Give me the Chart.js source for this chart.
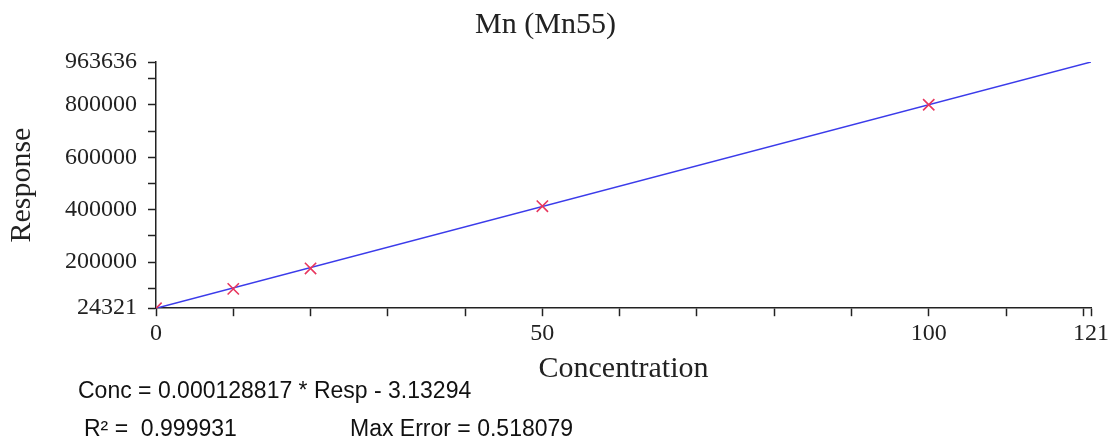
<!DOCTYPE html>
<html>
<head>
<meta charset="utf-8">
<title>Mn (Mn55)</title>
<script src="https://cdn.jsdelivr.net/npm/chart.js@4/dist/chart.umd.min.js"></script>
<style>
  html, body { margin: 0; padding: 0; background: #fff; }
  #wrap { position: relative; width: 1113px; height: 447px; }
  #calib { display: block; }
  .eq {
    position: absolute;
    font-family: "Liberation Sans", Arial, sans-serif;
    font-size: 23px;
    line-height: 26px;
    color: #111;
    white-space: pre;
  }
</style>
</head>
<body>
<div id="wrap">
  <canvas id="calib" width="1113" height="447"></canvas>
  <div class="eq" id="eq-line" style="left:78px; top:377px;"></div>
  <div class="eq" id="eq-r2" style="left:84px; top:415px;"></div>
  <div class="eq" id="eq-err" style="left:350px; top:415px;"></div>
</div>
<script>
const chartTitle = "Mn (Mn55)";
const xTitle = "Concentration";
const yTitle = "Response";

// calibration standards
const stdConc = [0, 10, 20, 50, 100];
const stdResp = [24000, 98000, 176000, 413500, 800500];

// fitted line end points
const fitConc = [0, 121];
const fitResp = [24321, 963636];

// axis ticks
const xTicks = [0, 10, 20, 30, 40, 50, 60, 70, 80, 90, 100, 110, 120, 121];
const xLabels = [0, 50, 100, 121];
const yTicks = [24321, 100000, 200000, 300000, 400000, 500000, 600000, 700000, 800000, 900000, 963636];
const yLabels = [24321, 200000, 400000, 600000, 800000, 963636];

const eqText = "Conc = 0.000128817 * Resp - 3.13294";
const r2Text = "R\u00B2 =  0.999931";
const errText = "Max Error = 0.518079";

function setTextById(id, value) {
  const el = document.getElementById(id);
  if (el) el.textContent = value;
}

function toPoints(xs, ys) {
  return xs.map((x, i) => ({ x: x, y: ys[i] }));
}

const serif = "'Liberation Serif', 'Times New Roman', serif";

function initCalibChart() {
  const ctx = document.getElementById("calib").getContext("2d");
  return new Chart(ctx, {
    type: "scatter",
    data: {
      datasets: [
        {
          label: "Standards",
          data: toPoints(stdConc, stdResp),
          pointStyle: "crossRot",
          pointRadius: 8,
          pointBorderWidth: 1.6,
          borderColor: "#e8365e",
          backgroundColor: "#e8365e",
          order: 0,
        },
        {
          label: "Fit",
          type: "line",
          data: toPoints(fitConc, fitResp),
          borderColor: "#3b3bea",
          borderWidth: 1.5,
          pointRadius: 0,
          fill: false,
          order: 1,
        },
      ],
    },
    options: {
      responsive: false,
      animation: false,
      layout: { padding: { left: 0, right: 22, top: 0, bottom: 60 } },
      plugins: {
        legend: { display: false },
        tooltip: { enabled: false },
        title: {
          display: true,
          text: chartTitle,
          color: "#222",
          font: { family: serif, size: 30, weight: "normal" },
          padding: { top: 7, bottom: 19 },
        },
      },
      scales: {
        x: {
          type: "linear",
          min: 0,
          max: 121,
          afterBuildTicks: (axis) => {
            axis.ticks = xTicks.map((v) => ({ value: v }));
          },
          ticks: {
            autoSkip: false,
            maxRotation: 0,
            padding: 3,
            color: "#222",
            font: { family: serif, size: 24 },
            callback: (v) => (xLabels.includes(v) ? String(v) : ""),
          },
          grid: { drawOnChartArea: false, tickLength: 8, tickColor: "#222", tickWidth: 1.5 },
          border: { color: "#222", width: 1.5 },
          title: {
            display: true,
            text: xTitle,
            color: "#222",
            font: { family: serif, size: 30 },
            padding: { top: 0, bottom: 0 },
          },
        },
        y: {
          type: "linear",
          min: 24321,
          max: 963636,
          afterBuildTicks: (axis) => {
            axis.ticks = yTicks.map((v) => ({ value: v }));
          },
          ticks: {
            autoSkip: false,
            padding: 11,
            color: "#222",
            font: { family: serif, size: 24 },
            callback: (v) => (yLabels.includes(v) ? String(v) : ""),
          },
          grid: { drawOnChartArea: false, tickLength: 8, tickColor: "#222", tickWidth: 1.5 },
          border: { color: "#222", width: 1.5 },
          title: {
            display: true,
            text: yTitle,
            color: "#222",
            font: { family: serif, size: 30 },
            padding: { top: 4, bottom: 14 },
          },
        },
      },
    },
  });
}

setTextById("eq-line", eqText);
setTextById("eq-r2", r2Text);
setTextById("eq-err", errText);
initCalibChart();
</script>
</body>
</html>
